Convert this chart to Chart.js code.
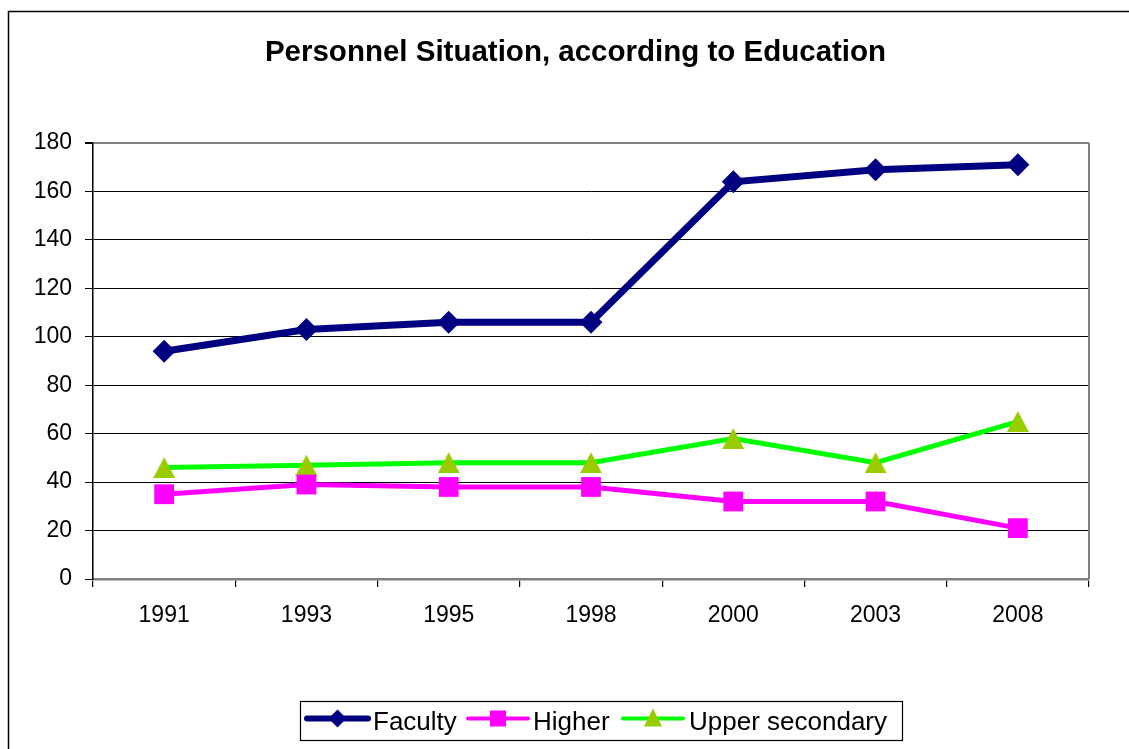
<!DOCTYPE html>
<html>
<head>
<meta charset="utf-8">
<script src="https://cdn.jsdelivr.net/npm/chart.js@4/dist/chart.umd.min.js"></script>
<style>
html,body{margin:0;padding:0;background:#fff;}
#wrap{width:1129px;height:749px;position:relative;}
</style>
</head>
<body>
<div id="wrap"><canvas id="c" width="1129" height="749"></canvas></div>
<script>
const chartTitle = "Personnel Situation, according to Education";
const years = ["1991", "1993", "1995", "1998", "2000", "2003", "2008"];
const faculty = [94, 103, 106, 106, 164, 169, 171];
const higher = [35, 39, 38, 38, 32, 32, 21];
const upperSecondary = [46, 47, 48, 48, 58, 48, 65];
const seriesNames = ["Faculty", "Higher", "Upper secondary"];
const yMin = 0, yMax = 180, yStep = 20;

const FONT = "'Liberation Sans', Arial, sans-serif";

// centred triangle marker image
const tri = document.createElement('canvas');
tri.width = 22; tri.height = 21;
(function () {
  const t = tri.getContext('2d');
  t.fillStyle = '#99CC00';
  t.beginPath();
  t.moveTo(11, 0); t.lineTo(22, 21); t.lineTo(0, 21);
  t.closePath(); t.fill();
})();

const decor = {
  id: 'decor',
  beforeDraw(chart) {
    const ctx = chart.ctx;
    ctx.save();
    ctx.fillStyle = '#fff';
    ctx.fillRect(0, 0, chart.width, chart.height);
    ctx.strokeStyle = '#000';
    ctx.lineWidth = 1.5;
    ctx.beginPath();
    ctx.moveTo(8.5, chart.height + 5);
    ctx.lineTo(8.5, 11.5);
    ctx.lineTo(chart.width + 5, 11.5);
    ctx.stroke();
    ctx.fillStyle = '#000';
    ctx.font = 'bold 29.5px ' + FONT;
    ctx.textAlign = 'center';
    ctx.textBaseline = 'alphabetic';
    ctx.fillText(chartTitle, 575.5, 61);
    ctx.restore();
  },
  beforeDatasetsDraw(chart) {
    const ctx = chart.ctx, a = chart.chartArea;
    ctx.save();
    ctx.strokeStyle = '#808080';
    ctx.lineWidth = 2;
    ctx.beginPath();
    ctx.moveTo(a.right, a.top);
    ctx.lineTo(a.right, a.bottom);
    ctx.stroke();
    ctx.restore();
  },
  afterDraw(chart) {
    const ctx = chart.ctx;
    ctx.save();
    ctx.strokeStyle = '#000';
    ctx.lineWidth = 1.2;
    ctx.strokeRect(300.5, 701.5, 602, 39);
    const items = [
      {x0: 307, x1: 368, tx: 373},
      {x0: 468, x1: 528, tx: 533},
      {x0: 623, x1: 683, tx: 689}
    ];
    const ly = 718.5;
    chart.data.datasets.forEach((ds, i) => {
      const it = items[i];
      ctx.strokeStyle = ds.borderColor;
      ctx.lineWidth = ds.borderWidth - 1;
      ctx.lineCap = 'round';
      ctx.beginPath();
      ctx.moveTo(it.x0, ly);
      ctx.lineTo(it.x1, ly);
      ctx.stroke();
      const cx = (it.x0 + it.x1) / 2;
      ctx.fillStyle = ds.pointBackgroundColor;
      ctx.beginPath();
      if (i === 0) {
        const r = 9;
        ctx.moveTo(cx, ly - r); ctx.lineTo(cx + r, ly); ctx.lineTo(cx, ly + r); ctx.lineTo(cx - r, ly);
      } else if (i === 1) {
        const s = 8;
        ctx.rect(cx - s, ly - s, 2 * s, 2 * s);
      } else {
        const w = 9;
        ctx.moveTo(cx, ly - 10); ctx.lineTo(cx + w, ly + 8); ctx.lineTo(cx - w, ly + 8);
      }
      ctx.closePath();
      ctx.fill();
      ctx.fillStyle = '#000';
      ctx.font = '26px ' + FONT;
      ctx.textAlign = 'left';
      ctx.textBaseline = 'alphabetic';
      ctx.fillText(ds.label, it.tx, 730);
    });
    ctx.restore();
  }
};

new Chart(document.getElementById('c'), {
  type: 'line',
  data: {
    labels: years,
    datasets: [
      {
        label: seriesNames[0], data: faculty,
        borderColor: '#000080', backgroundColor: '#000080',
        pointBackgroundColor: '#000080', pointBorderColor: '#000080',
        borderWidth: 7, pointStyle: 'rectRot', pointRadius: 11.5, pointBorderWidth: 0,
        tension: 0, fill: false
      },
      {
        label: seriesNames[1], data: higher,
        borderColor: '#FF00FF', backgroundColor: '#FF00FF',
        pointBackgroundColor: '#FF00FF', pointBorderColor: '#FF00FF',
        borderWidth: 5, pointStyle: 'rect', pointRadius: 14, pointBorderWidth: 0,
        tension: 0, fill: false
      },
      {
        label: seriesNames[2], data: upperSecondary,
        borderColor: '#00FF00', backgroundColor: '#99CC00',
        pointBackgroundColor: '#99CC00', pointBorderColor: '#99CC00',
        borderWidth: 5, pointStyle: tri, pointRadius: 12, pointBorderWidth: 0,
        tension: 0, fill: false
      }
    ]
  },
  options: {
    responsive: false,
    animation: false,
    devicePixelRatio: 1,
    layout: { padding: { top: 143, left: 0, right: 40, bottom: 0 } },
    plugins: {
      legend: { display: false },
      title: { display: false },
      tooltip: { enabled: false }
    },
    scales: {
      x: {
        type: 'category',
        offset: true,
        afterFit(s) { s.height = 170; },
        grid: {
          offset: true, drawOnChartArea: false, drawTicks: true,
          tickLength: 8, color: '#000', lineWidth: 1.2
        },
        border: { color: '#808080', width: 2.5 },
        ticks: { color: '#000', font: { family: FONT, size: 23 }, padding: 15, maxRotation: 0, autoSkip: false }
      },
      y: {
        min: yMin, max: yMax,
        afterFit(s) { s.width = 93; },
        grid: {
          color: (c) => (c.tick && (c.tick.value === yMax)) ? '#808080' : '#000',
          lineWidth: (c) => (c.tick && (c.tick.value === yMax)) ? 2 : 1,
          tickColor: '#000', tickLength: 8, drawTicks: true
        },
        border: { color: '#000', width: 1.5 },
        ticks: { stepSize: yStep, color: '#000', font: { family: FONT, size: 23 }, padding: 13 }
      }
    }
  },
  plugins: [decor]
});
</script>
</body>
</html>
